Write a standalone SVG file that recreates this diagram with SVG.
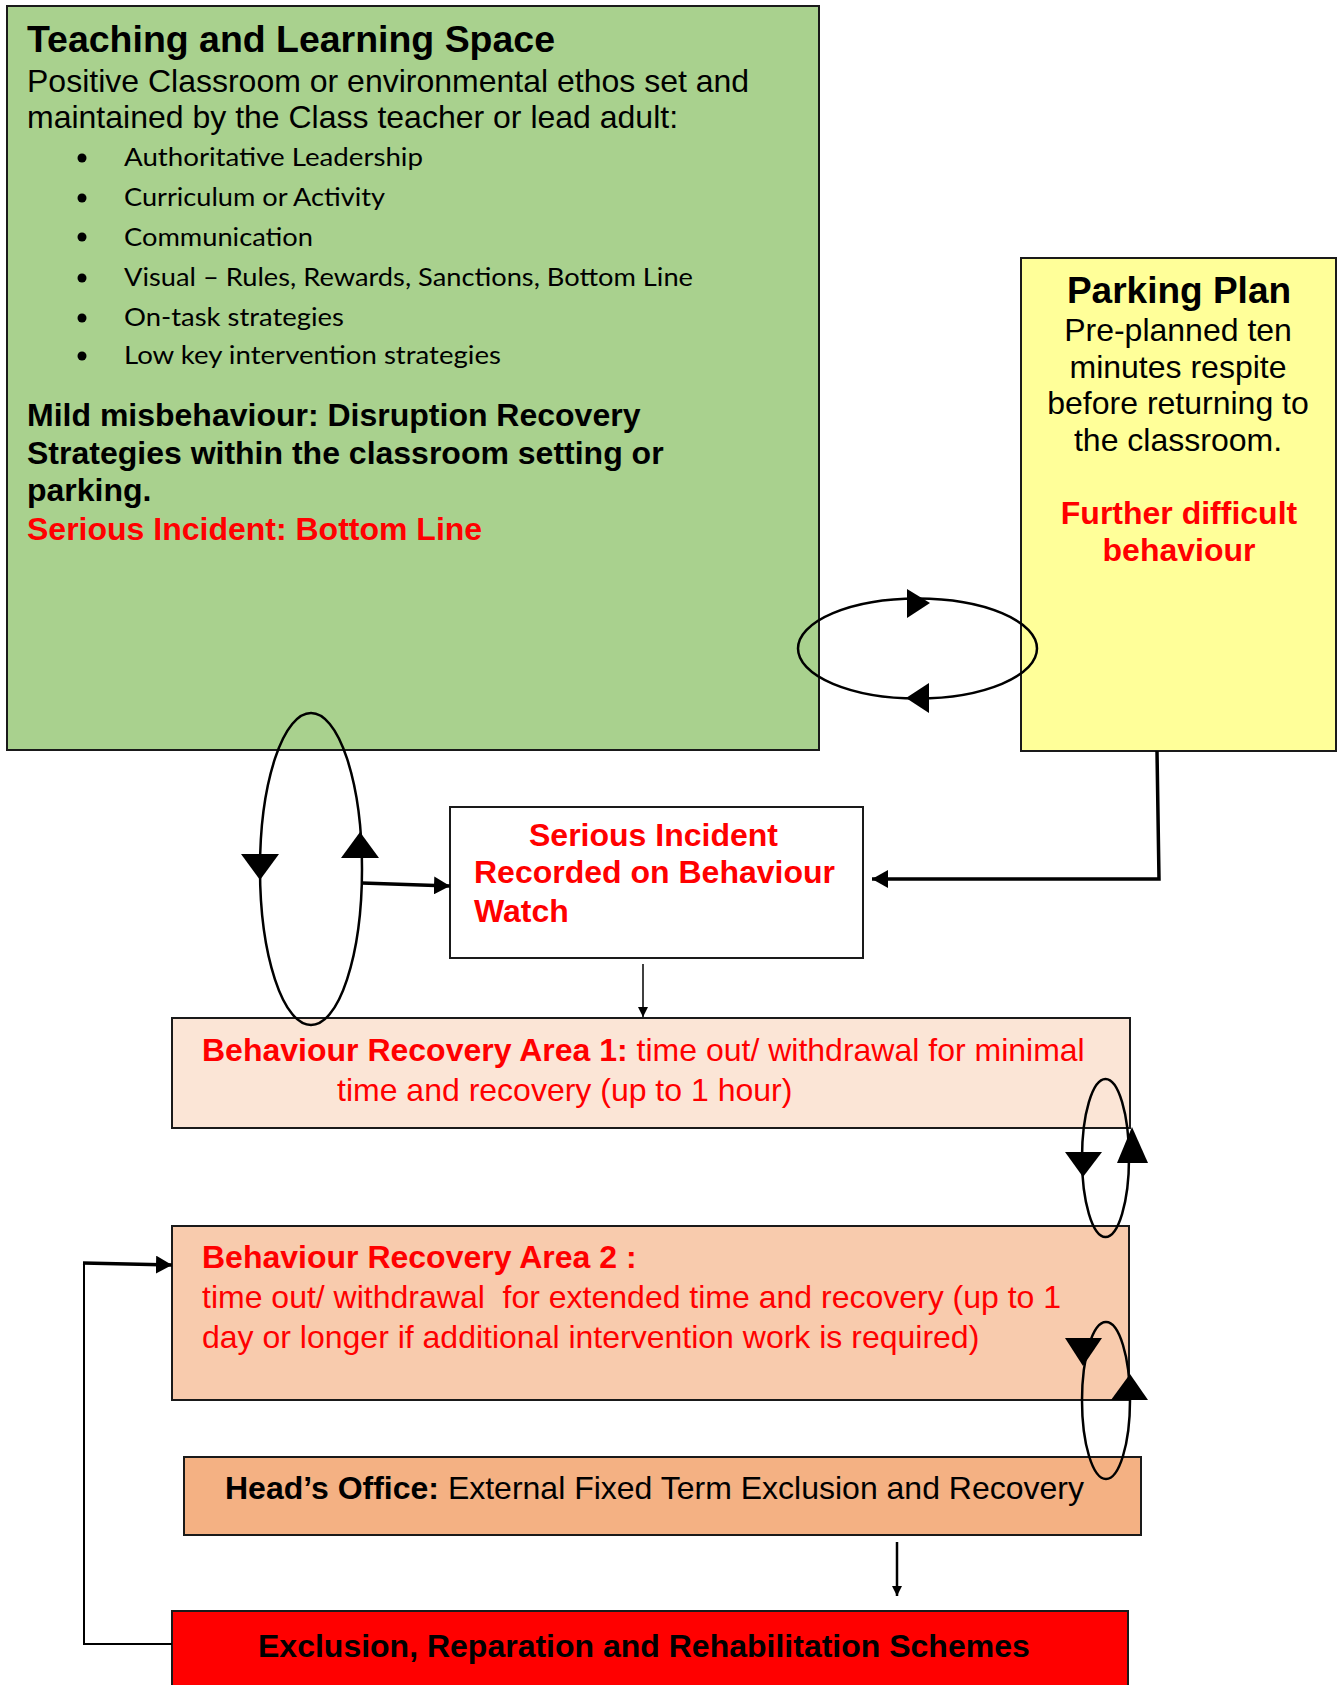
<svg xmlns="http://www.w3.org/2000/svg" width="1339" height="1685" viewBox="0 0 1339 1685">
<defs>
<style>
.box{stroke:#1a1a1a;stroke-width:2}
.t{font-family:"Liberation Sans",Arial,sans-serif;fill:#000}
.b{font-weight:bold}
.red{fill:#FF0000}
.s32{font-size:32px}
.s37{font-size:37px}
.bul{font-family:Lato,"Open Sans",sans-serif;font-size:25px;fill:#000}
.ln{fill:none;stroke:#000;stroke-width:2.5}
.ell{fill:none;stroke:#000;stroke-width:2.5}
.hd{fill:#000}
</style>
<marker id="ah" viewBox="0 0 16 18" refX="16" refY="9" markerWidth="16" markerHeight="18" markerUnits="userSpaceOnUse" orient="auto">
<path d="M0,0 L16,9 L0,18 Z" fill="#000"/>
</marker>
<marker id="as" viewBox="0 0 10 10" refX="10" refY="5" markerWidth="10" markerHeight="10" markerUnits="userSpaceOnUse" orient="auto">
<path d="M0,0 L10,5 L0,10 Z" fill="#000"/>
</marker>
</defs>
<rect width="1339" height="1685" fill="#fff"/>

<g id="teaching-space">
<rect class="box" x="7" y="6" width="812" height="744" fill="#A9D18E"/>
<text class="t b s37" x="27" y="52" textLength="528" lengthAdjust="spacingAndGlyphs">Teaching and Learning Space</text>
<text class="t s32" x="27" y="92">Positive Classroom or environmental ethos set and</text>
<text class="t s32" x="27" y="128">maintained by the Class teacher or lead adult:</text>
<g class="hd">
<circle cx="82" cy="158" r="4.5"/><circle cx="82" cy="198" r="4.5"/><circle cx="82" cy="237" r="4.5"/>
<circle cx="82" cy="278" r="4.5"/><circle cx="82" cy="318" r="4.5"/><circle cx="82" cy="356" r="4.5"/>
</g>
<text class="bul" x="124" y="166" textLength="299" lengthAdjust="spacingAndGlyphs">Authoritative  Leadership</text>
<text class="bul" x="124" y="206" textLength="261" lengthAdjust="spacingAndGlyphs">Curriculum or Activity</text>
<text class="bul" x="124" y="246" textLength="189" lengthAdjust="spacingAndGlyphs">Communication</text>
<text class="bul" x="124" y="286" textLength="569" lengthAdjust="spacingAndGlyphs">Visual  – Rules, Rewards, Sanctions, Bottom Line</text>
<text class="bul" x="124" y="326" textLength="220" lengthAdjust="spacingAndGlyphs">On-task  strategies</text>
<text class="bul" x="124" y="364" textLength="377" lengthAdjust="spacingAndGlyphs">Low  key intervention strategies</text>
<text class="t b s32" x="27" y="426">Mild misbehaviour: Disruption Recovery</text>
<text class="t b s32" x="27" y="464">Strategies within the classroom setting or</text>
<text class="t b s32" x="27" y="501">parking.</text>
<text class="t b s32 red" x="27" y="540">Serious Incident: Bottom Line</text>
</g>

<g id="parking-plan">
<rect class="box" x="1021" y="258" width="315" height="493" fill="#FFFF99"/>
<g text-anchor="middle">
<text class="t b s37" x="1179" y="303">Parking Plan</text>
<text class="t s32" x="1178" y="341">Pre-planned ten</text>
<text class="t s32" x="1178" y="378">minutes respite</text>
<text class="t s32" x="1178" y="414">before returning to</text>
<text class="t s32" x="1178" y="451">the classroom.</text>
<text class="t b s32 red" x="1179" y="524">Further difficult</text>
<text class="t b s32 red" x="1179" y="561">behaviour</text>
</g>
</g>

<g id="serious-incident">
<rect class="box" x="450" y="807" width="413" height="151" fill="#fff"/>
<text class="t b s32 red" x="529" y="846">Serious Incident</text>
<text class="t b s32 red" x="474" y="883">Recorded on Behaviour</text>
<text class="t b s32 red" x="474" y="922">Watch</text>
</g>

<g id="bra1">
<rect class="box" x="172" y="1018" width="958" height="110" fill="#FBE5D6"/>
<text class="t s32 red" x="202" y="1061"><tspan class="b">Behaviour Recovery Area 1:</tspan> time out/ withdrawal for minimal</text>
<text class="t s32 red" x="337" y="1101">time and recovery (up to 1 hour)</text>
</g>

<g id="bra2">
<rect class="box" x="172" y="1226" width="957" height="174" fill="#F8CBAD"/>
<text class="t b s32 red" x="202" y="1268">Behaviour Recovery Area 2 :</text>
<text class="t s32 red" x="202" y="1308" xml:space="preserve">time out/ withdrawal  for extended time and recovery (up to 1</text>
<text class="t s32 red" x="202" y="1348">day or longer if additional intervention work is required)</text>
</g>

<g id="heads-office">
<rect class="box" x="184" y="1457" width="957" height="78" fill="#F4B183"/>
<text class="t s32" x="225" y="1499"><tspan class="b">Head’s Office:</tspan> External Fixed Term Exclusion and Recovery</text>
</g>

<g id="exclusion">
<rect class="box" x="172" y="1611" width="956" height="84" fill="#FF0000"/>
<text class="t b s32" x="258" y="1657">Exclusion, Reparation and Rehabilitation Schemes</text>
</g>

<g id="connectors">
<ellipse class="ell" cx="917.5" cy="648.5" rx="119.5" ry="50"/>
<polygon class="hd" points="907,589 930,603 907,618"/>
<polygon class="hd" points="929,683 906,698 929,713"/>

<ellipse class="ell" cx="311" cy="869" rx="51" ry="156"/>
<polygon class="hd" points="241,854 279,854 260,880"/>
<polygon class="hd" points="341,858 379,858 360,832"/>
<path class="ln" style="stroke-width:3.5" d="M362,883 L450,886" marker-end="url(#ah)"/>

<path class="ln" style="stroke-width:3.5" d="M1157,751 L1159,879 L872,879" marker-end="url(#ah)"/>

<path class="ln" style="stroke-width:1.5" d="M643,964 L643,1017" marker-end="url(#as)"/>

<ellipse class="ell" cx="1105.5" cy="1158" rx="23.5" ry="79"/>
<polygon class="hd" points="1065,1152 1102,1152 1083,1177"/>
<polygon class="hd" points="1117,1163 1148,1163 1132,1127"/>

<ellipse class="ell" cx="1106" cy="1400.5" rx="24" ry="78.5"/>
<polygon class="hd" points="1065,1338 1102,1338 1083,1366"/>
<polygon class="hd" points="1111,1400 1148,1400 1130,1374"/>

<path class="ln" d="M897,1542 L897,1596" marker-end="url(#as)"/>

<path class="ln" style="stroke-width:2" d="M172,1644 L84,1644 L84,1263"/>
<path class="ln" style="stroke-width:3.5" d="M83,1263 L172,1265" marker-end="url(#ah)"/>
</g>
</svg>
